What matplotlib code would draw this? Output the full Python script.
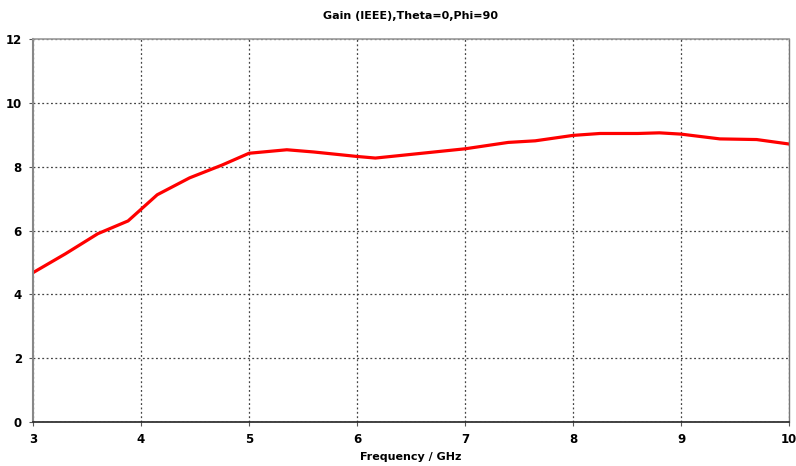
import matplotlib
matplotlib.use("Agg")
import matplotlib.pyplot as plt

# Gain curve
freq_ghz = [3.0, 3.3, 3.6, 3.88, 4.15, 4.45, 4.75, 5.0, 5.35, 5.6, 6.0, 6.17,
            6.4, 7.0, 7.4, 7.65, 8.0, 8.25, 8.6, 8.8, 9.0, 9.36, 9.7, 10.0]
gain_db = [4.68, 5.27, 5.9, 6.3, 7.12, 7.65, 8.05, 8.42, 8.53, 8.46, 8.32, 8.27,
           8.35, 8.56, 8.76, 8.81, 8.98, 9.04, 9.04, 9.06, 9.02, 8.87, 8.85, 8.71]

x_ticks = [3, 4, 5, 6, 7, 8, 9, 10]
y_ticks = [0, 2, 4, 6, 8, 10, 12]

fig = plt.figure(figsize=(7.96, 4.66), dpi=100)
ax = fig.add_axes([0.0415, 0.0944, 0.9497, 0.8219])

ax.plot(freq_ghz, gain_db, color="#ff0000", linewidth=2.3)

ax.set_xlim(3, 10)
ax.set_ylim(0, 12)
ax.set_xticks(x_ticks)
ax.set_yticks(y_ticks)
ax.tick_params(labelsize=8.5, length=3, width=0.8, color="#555555", pad=5)
for lbl in ax.get_xticklabels() + ax.get_yticklabels():
    lbl.set_fontweight("bold")

# dotted grid like the simulator export
ax.grid(True, linestyle=(0, (1.5, 2)), color="#444444", linewidth=0.9)
ax.spines["left"].set_color("#888888")
ax.spines["left"].set_linewidth(1.5)
ax.spines["top"].set_color("#999999")
ax.spines["top"].set_linewidth(1.2)
ax.spines["right"].set_color("#777777")
ax.spines["right"].set_linewidth(1.0)
ax.spines["bottom"].set_color("#222222")
ax.spines["bottom"].set_linewidth(1.2)

fig.text(0.516, 0.966, "Gain (IEEE),Theta=0,Phi=90", ha="center", va="center",
         fontsize=8, fontweight="bold")
fig.text(0.516, 0.019, "Frequency / GHz", ha="center", va="center",
         fontsize=8, fontweight="bold")

fig.savefig("out.png", dpi=100)
